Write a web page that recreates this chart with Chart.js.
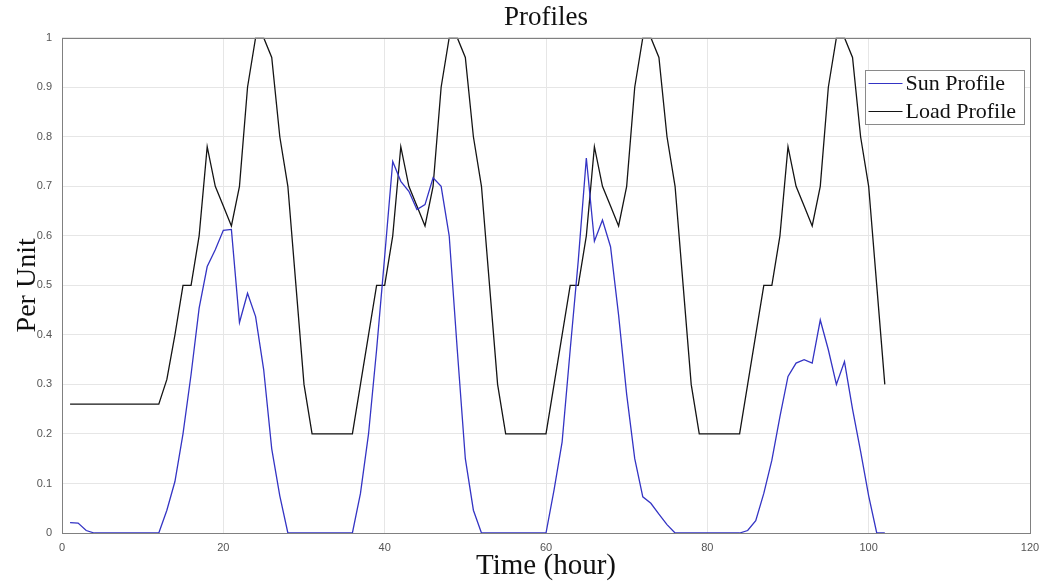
<!DOCTYPE html>
<html>
<head>
<meta charset="utf-8">
<title>Profiles</title>
<script src="https://cdn.jsdelivr.net/npm/chart.js@4/dist/chart.umd.min.js"></script>
<style>
  html, body { margin: 0; padding: 0; background: #fff; }
  #wrap { width: 1042px; height: 586px; position: relative; }
</style>
</head>
<body>
<div id="wrap"><canvas id="perfil"></canvas></div>
<script>
// Data (hour 1..102)
const hours = [
  1, 2, 3, 4, 5, 6, 7, 8, 9, 10, 11, 12, 13, 14, 15, 16, 17, 18, 19, 20, 21, 22, 23, 24,
  25, 26, 27, 28, 29, 30, 31, 32, 33, 34, 35, 36, 37, 38, 39, 40, 41, 42, 43, 44, 45, 46, 47, 48,
  49, 50, 51, 52, 53, 54, 55, 56, 57, 58, 59, 60, 61, 62, 63, 64, 65, 66, 67, 68, 69, 70, 71, 72,
  73, 74, 75, 76, 77, 78, 79, 80, 81, 82, 83, 84, 85, 86, 87, 88, 89, 90, 91, 92, 93, 94, 95, 96,
  97, 98, 99, 100, 101, 102
];

const sunProfile = [
  0.021, 0.02, 0.005, 0, 0, 0, 0, 0, 0, 0, 0, 0, 0.046, 0.104, 0.2, 0.32, 0.454, 0.538, 0.572, 0.611, 0.613, 0.425, 0.484, 0.437,
  0.33, 0.17, 0.075, 0, 0, 0, 0, 0, 0, 0, 0, 0, 0.08, 0.2, 0.37, 0.558, 0.75, 0.71, 0.69, 0.653, 0.663, 0.717, 0.7, 0.6,
  0.37, 0.15, 0.046, 0, 0, 0, 0, 0, 0, 0, 0, 0, 0.087, 0.184, 0.37, 0.55, 0.757, 0.589, 0.632, 0.578, 0.44, 0.28, 0.15, 0.073,
  0.06, 0.038, 0.017, 0, 0, 0, 0, 0, 0, 0, 0, 0, 0.005, 0.025, 0.08, 0.147, 0.235, 0.316, 0.343, 0.35, 0.343, 0.43, 0.37, 0.3,
  0.346, 0.25, 0.165, 0.075, 0, 0
];

const loadProfile = [
  0.26, 0.26, 0.26, 0.26, 0.26, 0.26, 0.26, 0.26, 0.26, 0.26, 0.26, 0.26, 0.31, 0.4, 0.5, 0.5, 0.6, 0.78, 0.7, 0.66, 0.62, 0.7, 0.9, 1,
  1, 0.96, 0.8, 0.7, 0.5, 0.3, 0.2, 0.2, 0.2, 0.2, 0.2, 0.2, 0.3, 0.4, 0.5, 0.5, 0.6, 0.78, 0.7, 0.66, 0.62, 0.7, 0.9, 1,
  1, 0.96, 0.8, 0.7, 0.5, 0.3, 0.2, 0.2, 0.2, 0.2, 0.2, 0.2, 0.3, 0.4, 0.5, 0.5, 0.6, 0.78, 0.7, 0.66, 0.62, 0.7, 0.9, 1,
  1, 0.96, 0.8, 0.7, 0.5, 0.3, 0.2, 0.2, 0.2, 0.2, 0.2, 0.2, 0.3, 0.4, 0.5, 0.5, 0.6, 0.78, 0.7, 0.66, 0.62, 0.7, 0.9, 1,
  1, 0.96, 0.8, 0.7, 0.5, 0.3
];

const seriesLabels = ["Sun Profile", "Load Profile"];
const xTicks = [0, 20, 40, 60, 80, 100, 120];
const yTicks = [0, 0.1, 0.2, 0.3, 0.4, 0.5, 0.6, 0.7, 0.8, 0.9, 1];

const serif = "'Liberation Serif', 'DejaVu Serif', serif";
const sans = "'Liberation Sans', Arial, sans-serif";

// box round the plot + legend in the upper right corner
const boxPlugin = {
  id: "boxAndLegend",
  afterDraw(chart) {
    const ctx = chart.ctx;
    const a = chart.chartArea;
    ctx.save();
    ctx.strokeStyle = "#808080";
    ctx.lineWidth = 1;
    ctx.strokeRect(Math.round(a.left) + 0.5, Math.round(a.top) + 0.5, Math.round(a.right - a.left), Math.round(a.bottom - a.top));

    // legend
    const w = 159, h = 54;
    const lx = Math.round(a.right - 6 - w) + 0.5;
    const ly = Math.round(a.top + 32) + 0.5;
    ctx.fillStyle = "#fff";
    ctx.fillRect(lx, ly, w, h);
    ctx.strokeStyle = "#8a8a8a";
    ctx.strokeRect(lx, ly, w, h);
    ctx.font = "22px " + serif;
    ctx.textBaseline = "middle";
    chart.data.datasets.forEach((ds, i) => {
      const y = ly + 13 + i * 28;
      ctx.strokeStyle = ds.borderColor;
      ctx.lineWidth = 1.2;
      ctx.beginPath();
      ctx.moveTo(lx + 3, y);
      ctx.lineTo(lx + 37, y);
      ctx.stroke();
      ctx.fillStyle = "#111";
      ctx.fillText(ds.label, lx + 40, y + 1);
    });
    ctx.restore();
  },
};

const tickText = (v) => String(Math.round(v * 10) / 10);

let grafico = new Chart(document.getElementById("perfil"), {
  type: "line",
  data: {
    datasets: [
      {
        label: seriesLabels[0],
        data: hours.map((h, i) => ({ x: h, y: sunProfile[i] })),
        borderColor: "#3434c4",
        borderWidth: 1.3,
        pointRadius: 0,
        tension: 0,
        fill: false,
      },
      {
        label: seriesLabels[1],
        data: hours.map((h, i) => ({ x: h, y: loadProfile[i] })),
        borderColor: "#141414",
        borderWidth: 1.3,
        pointRadius: 0,
        tension: 0,
        fill: false,
      },
    ],
  },
  options: {
    responsive: true,
    maintainAspectRatio: false,
    animation: false,
    layout: { padding: { left: 0, right: 12, top: 0, bottom: 0 } },
    plugins: {
      legend: { display: false },
      tooltip: { enabled: false },
      title: {
        display: true,
        text: "Profiles",
        fullSize: false,
        color: "#111",
        font: { family: serif, size: 27, weight: "normal", lineHeight: 1.1 },
        padding: { top: 3, bottom: 5 },
      },
    },
    scales: {
      x: {
        type: "linear",
        min: 0,
        max: 120,
        afterFit(scale) {
          scale.height = 53;
          scale.paddingLeft = 0;
          scale.paddingRight = 0;
        },
        afterBuildTicks(scale) { scale.ticks = xTicks.map((v) => ({ value: v })); },
        grid: { color: "#e6e6e6", drawTicks: false },
        border: { display: false },
        ticks: { color: "#555", padding: 8, font: { family: sans, size: 11 }, maxRotation: 0, callback: tickText },
        title: {
          display: true,
          text: "Time (hour)",
          color: "#111",
          font: { family: serif, size: 29, lineHeight: 1.1 },
          padding: { top: 0, bottom: 4 },
        },
      },
      y: {
        min: 0,
        max: 1,
        afterFit(scale) {
          scale.width = 62;
          scale.paddingTop = 0;
          scale.paddingBottom = 0;
        },
        afterBuildTicks(scale) { scale.ticks = yTicks.map((v) => ({ value: v })); },
        grid: { color: "#e6e6e6", drawTicks: false },
        border: { display: false },
        ticks: { color: "#555", padding: 10, font: { family: sans, size: 11 }, callback: tickText },
        title: {
          display: true,
          text: "Per Unit",
          color: "#111",
          font: { family: serif, size: 28, lineHeight: 1.1 },
          padding: { top: 12, bottom: 0 },
        },
      },
    },
  },
  plugins: [boxPlugin],
});
</script>
</body>
</html>
